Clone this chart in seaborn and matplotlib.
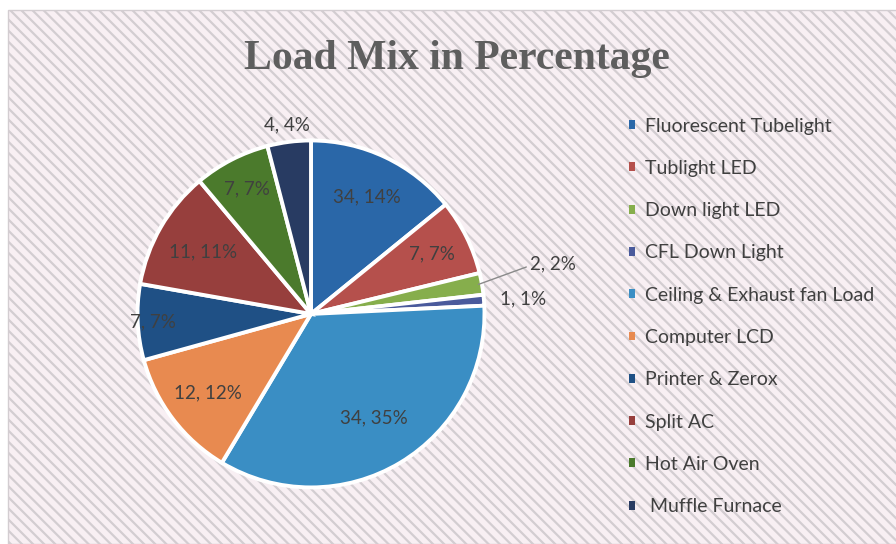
import numpy as np
import matplotlib
matplotlib.use('Agg')
import matplotlib.pyplot as plt
import matplotlib.patches as mpatches
import seaborn as sns

# data
categorias = ['Fluorescent Tubelight', 'Tublight LED', 'Down light LED', 'CFL Down Light',
              'Ceiling & Exhaust fan Load', 'Computer LCD', 'Printer & Zerox', 'Split AC',
              'Hot Air Oven', ' Muffle Furnace']
valores = [14, 7, 2, 1, 34, 12, 7, 11, 7, 4]
etiquetas = ['34, 14%', '7, 7%', '2, 2%', '1, 1%', '34, 35%', '12, 12%',
             '7, 7%', '11, 11%', '7, 7%', '4, 4%']

COLORES = ['#2a67a8', '#b5504c', '#86ae4c', '#4a5a9c', '#3a8ec4',
           '#e88a50', '#1f5085', '#973f3d', '#4b7a2c', '#283b62']
# radial distance of each data label (layout only)
RADIO_ETQ = [0.75, 0.78, 1.2, 1.2, 0.70, 0.75, 0.91, 0.72, 0.81, 1.10]

sns.set_theme(style='white')
plt.rcParams['font.family'] = ['Lato', 'DejaVu Sans']
plt.rcParams['hatch.color'] = '#d3ccd1'
plt.rcParams['hatch.linewidth'] = 1.6

fig = plt.figure(figsize=(8.96, 5.44), dpi=100)
fig.patch.set_facecolor('white')

# hatched chart background
fondo = mpatches.Rectangle((8 / 896, 0), 1, 1 - 10 / 544, transform=fig.transFigure,
                           facecolor='#f8eff3', edgecolor='#d3cdd1', hatch='\\\\\\',
                           linewidth=1.0, zorder=-5)
fig.patches.append(fondo)

ax = fig.add_axes([0.1496, 0.0974, 0.395, 0.651])
ax.set_zorder(2)
ax.set_facecolor('none')
wedges, _ = ax.pie(valores, colors=COLORES, startangle=90, counterclock=False,
                   wedgeprops=dict(edgecolor='white', linewidth=2.8))
ax.set_xlim(-1.02, 1.02)
ax.set_ylim(-1.02, 1.02)
ax.set_aspect('equal')
ax.axis('off')

FS = 13.5
for i, (w, txt) in enumerate(zip(wedges, etiquetas)):
    ang = np.deg2rad((w.theta1 + w.theta2) / 2)
    r = RADIO_ETQ[i]
    x, y = r * np.cos(ang), r * np.sin(ang)
    if i == 2:
        ax.annotate(txt, xy=(0.98 * np.cos(ang), 0.98 * np.sin(ang)), xytext=(1.26, 0.29),
                    fontsize=FS, color='#404040', va='center', ha='left',
                    arrowprops=dict(arrowstyle='-', color='#8a8a8a', lw=1.0,
                                    connectionstyle='angle,angleA=0,angleB=20,rad=0',
                                    shrinkA=0, shrinkB=0),
                    annotation_clip=False)
    elif i == 3:
        ax.text(1.09, 0.085, txt, fontsize=FS, color='#404040', va='center', ha='left')
    else:
        ax.text(x, y, txt, fontsize=FS, color='#404040', ha='center', va='center')

fig.text(0.51, 0.892, 'Load Mix in Percentage', ha='center', va='center',
         fontsize=30, fontweight='bold', color='#5e5e5e', family='Liberation Serif')

manijas = [mpatches.Patch(facecolor=c, edgecolor='none') for c in COLORES]
leg = fig.legend(manijas, categorias, loc='upper left', bbox_to_anchor=(0.6825, 0.816),
                 frameon=False, fontsize=14, handlelength=0.32, handleheight=0.32,
                 handletextpad=0.5, labelspacing=1.3, labelcolor='#404040')
leg.set_zorder(3)

fig.savefig('out.png', dpi=100)
